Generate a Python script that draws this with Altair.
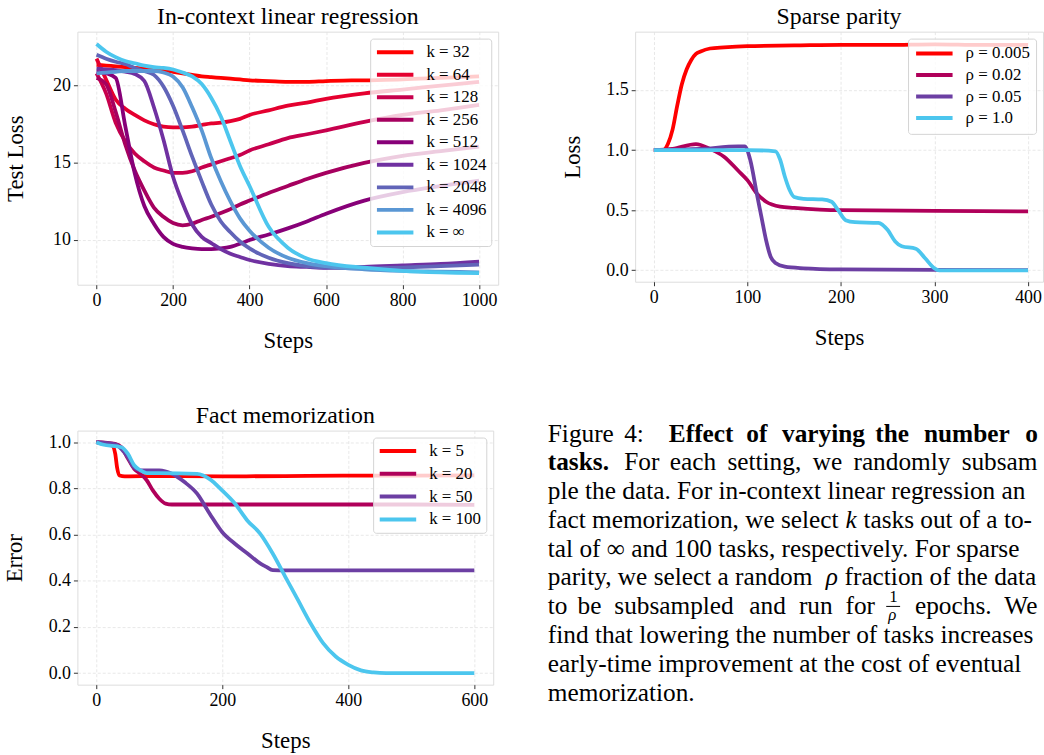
import altair as alt
import pandas as pd

FONT = "Liberation Serif"

# ---------------- In-context linear regression ----------------
icl_steps = [0, 25, 50, 75, 100, 125, 150, 175, 200, 225, 250, 275, 300, 325, 350, 375,
             400, 450, 500, 550, 600, 700, 800, 900, 1000]
icl_k32 = [21.35, 21.3, 21.25, 21.2, 21.15, 21.1, 21.05, 21.0, 20.9, 20.8, 20.7, 20.6, 20.55,
           20.5, 20.45, 20.4, 20.35, 20.3, 20.25, 20.25, 20.3, 20.35, 20.4, 20.5, 20.6]
icl_k64 = [21.75, 20.4, 19.1, 18.5, 18.1, 17.75, 17.5, 17.35, 17.3, 17.3, 17.35, 17.45, 17.55,
           17.6, 17.7, 17.85, 18.1, 18.4, 18.7, 18.9, 19.15, 19.5, 19.75, 20.0, 20.25]
icl_k128 = [20.8, 19.5, 17.6, 16.4, 15.6, 15.1, 14.7, 14.5, 14.35, 14.35, 14.45, 14.7, 14.9,
            15.1, 15.3, 15.5, 15.8, 16.2, 16.6, 16.85, 17.1, 17.65, 18.1, 18.4, 18.75]
icl_k256 = [20.5, 20.1, 18.3, 16.2, 14.5, 13.2, 12.1, 11.5, 11.1, 10.95, 11.05, 11.3, 11.5,
            11.75, 12.0, 12.3, 12.55, 13.05, 13.5, 13.95, 14.35, 15.0, 15.45, 15.75, 16.05]
icl_k512 = [20.9, 20.8, 20.5, 17.4, 14.3, 12.2, 11.05, 10.2, 9.75, 9.55, 9.45, 9.4, 9.4,
            9.45, 9.55, 9.75, 10.0, 10.35, 10.75, 11.2, 11.7, 12.55, 13.1, 13.5, 13.85]
icl_k1024 = [21.1, 21.05, 21.0, 20.9, 20.75, 20.3, 18.6, 16.5, 14.1, 12.4, 11.0, 10.2, 9.8,
             9.4, 9.1, 8.9, 8.7, 8.45, 8.3, 8.25, 8.2, 8.25, 8.35, 8.45, 8.6]
icl_k2048 = [22.0, 21.75, 21.55, 21.4, 21.15, 20.95, 20.7, 19.95, 18.7, 17.1, 15.4, 13.8, 12.3,
             11.2, 10.5, 9.9, 9.45, 8.85, 8.5, 8.3, 8.2, 8.15, 8.2, 8.3, 8.4]
icl_k4096 = [20.8, 20.85, 20.9, 20.95, 20.95, 20.95, 20.95, 20.85, 20.6, 19.9, 18.6, 17.1, 15.3,
             13.8, 12.5, 11.4, 10.6, 9.5, 8.85, 8.5, 8.3, 8.1, 8.0, 7.95, 7.9]
icl_kinf = [22.7, 22.2, 21.85, 21.6, 21.45, 21.3, 21.2, 21.15, 21.05, 20.85, 20.6, 20.1, 19.2,
            18.0, 16.4, 14.8, 13.5, 10.85, 9.5, 8.8, 8.5, 8.2, 8.0, 7.9, 7.85]
icl_labels = ["k = 32", "k = 64", "k = 128", "k = 256", "k = 512", "k = 1024",
              "k = 2048", "k = 4096", "k = ∞"]
icl_colors = ["#ff0000", "#e5002f", "#c7004d", "#a6005f", "#870078", "#7031a1",
              "#6164b8", "#5a97d4", "#4cc6ee"]

# ---------------- Sparse parity ----------------
sp_steps_0005 = [0, 10, 15, 20, 25, 30, 35, 40, 45, 50, 60, 75, 100, 150, 200, 250, 300, 350, 400]
sp_vals_0005 = [1.0, 1.0, 1.05, 1.17, 1.37, 1.55, 1.67, 1.75, 1.8, 1.82, 1.845, 1.855, 1.865,
                1.87, 1.875, 1.875, 1.88, 1.875, 1.875]
sp_steps_002 = [0, 20, 45, 60, 75, 90, 100, 110, 120, 135, 150, 200, 300, 400]
sp_vals_002 = [1.0, 1.01, 1.05, 1.01, 0.945, 0.83, 0.75, 0.64, 0.57, 0.53, 0.52, 0.5, 0.495, 0.49]
sp_steps_005 = [0, 50, 90, 97, 103, 110, 115, 120, 125, 130, 140, 160, 200, 300, 400]
sp_vals_005 = [1.0, 1.01, 1.03, 1.03, 0.92, 0.64, 0.445, 0.25, 0.11, 0.06, 0.03, 0.017, 0.008,
               0.003, 0.002]
sp_steps_1 = [0, 100, 130, 135, 140, 145, 150, 160, 180, 190, 197, 205, 215, 240, 250, 258, 265,
              280, 290, 300, 305, 400]
sp_vals_1 = [1.0, 1.0, 0.99, 0.92, 0.78, 0.67, 0.61, 0.595, 0.59, 0.57, 0.5, 0.417, 0.4, 0.395,
             0.335, 0.24, 0.2, 0.18, 0.1, 0.016, 0.0, 0.0]
sp_labels = ["ρ = 0.005", "ρ = 0.02", "ρ = 0.05", "ρ = 1.0"]
sp_colors = ["#ff0000", "#b0005a", "#6c3fa3", "#4cc6ee"]

# ---------------- Fact memorization ----------------
fm_steps_5 = [0, 10, 25, 30, 33, 37, 45, 100, 200, 300, 400, 500, 600]
fm_vals_5 = [1.0, 0.993, 0.986, 0.95, 0.89, 0.856, 0.852, 0.853, 0.852, 0.853, 0.855, 0.855, 0.856]
fm_steps_20 = [0, 30, 40, 50, 60, 70, 80, 90, 100, 110, 120, 200, 300, 400, 500, 600]
fm_vals_20 = [1.0, 0.993, 0.978, 0.93, 0.885, 0.863, 0.835, 0.79, 0.755, 0.734, 0.73, 0.73, 0.73,
              0.73, 0.73, 0.728]
fm_steps_50 = [0, 30, 40, 50, 60, 70, 100, 120, 140, 160, 180, 200, 220, 240, 260, 270, 280, 300,
               400, 500, 600]
fm_vals_50 = [1.0, 0.99, 0.97, 0.935, 0.89, 0.878, 0.878, 0.863, 0.827, 0.777, 0.69, 0.61, 0.56,
              0.518, 0.475, 0.46, 0.446, 0.445, 0.445, 0.445, 0.445]
fm_steps_100 = [0, 10, 40, 50, 60, 70, 80, 100, 160, 180, 200, 220, 240, 260, 280, 300, 320, 340,
                360, 380, 400, 420, 440, 460, 600]
fm_vals_100 = [1.0, 0.99, 0.978, 0.95, 0.9, 0.878, 0.866, 0.866, 0.863, 0.84, 0.79, 0.734, 0.66,
               0.604, 0.518, 0.417, 0.317, 0.216, 0.13, 0.072, 0.036, 0.012, 0.003, 0.0, 0.0]
fm_labels = ["k = 5", "k = 20", "k = 50", "k = 100"]
fm_colors = ["#ff0000", "#b0005a", "#6c3fa3", "#4cc6ee"]

# ---------------- Caption ----------------
# (line, x offset, text, style)  n normal, b bold, i italic, s small upright, si small italic
caption_segments = [
    (0, 0, "Figure", "n"), (0, 77, "4:", "n"), (0, 122, "Effect", "b"), (0, 200, "of", "b"),
    (0, 236, "varying", "b"), (0, 330, "the", "b"), (0, 379, "number", "b"), (0, 481, "of", "b"),
    (1, 0, "tasks.", "b"), (1, 77, "For", "n"), (1, 123, "each", "n"), (1, 181, "setting,", "n"),
    (1, 267, "we", "n"), (1, 308, "randomly", "n"), (1, 417, "subsam-", "n"),
    (2, 0, "ple the data. For in-context linear regression and", "n"),
    (3, 0, "fact memorization, we select", "n"), (3, 300, "k", "i"),
    (3, 318, "tasks out of a to-", "n"),
    (4, 0, "tal of ∞ and 100 tasks, respectively. For sparse", "n"),
    (5, 0, "parity, we select a random", "n"), (5, 280, "ρ", "i"),
    (5, 299, "fraction of the data", "n"),
    (6, 0, "to", "n"), (6, 30, "be", "n"), (6, 67, "subsampled", "n"), (6, 203, "and", "n"),
    (6, 253, "run", "n"), (6, 300, "for", "n"), (6, 370, "epochs.", "n"), (6, 460, "We", "n"),
    (5.59, 344, "1", "s"), (6.21, 343, "ρ", "si"),
    (7, 0, "find that lowering the number of tasks increases", "n"),
    (8, 0, "early-time improvement at the cost of eventual", "n"),
    (9, 0, "memorization.", "n"),
]
fraction_bar = [(5.73, 341, 355)]
CAPTION_WIDTH = 494


def long_df(steps_lists, values_lists, labels):
    rows = []
    for lab, st, vals in zip(labels, steps_lists, values_lists):
        for s, v in zip(st, vals):
            rows.append({"step": s, "value": v, "series": lab})
    return pd.DataFrame(rows)


icl_df = long_df([icl_steps] * 9,
                 [icl_k32, icl_k64, icl_k128, icl_k256, icl_k512, icl_k1024, icl_k2048,
                  icl_k4096, icl_kinf], icl_labels)
sp_df = long_df([sp_steps_0005, sp_steps_002, sp_steps_005, sp_steps_1],
                [sp_vals_0005, sp_vals_002, sp_vals_005, sp_vals_1], sp_labels)
fm_df = long_df([fm_steps_5, fm_steps_20, fm_steps_50, fm_steps_100],
                [fm_vals_5, fm_vals_20, fm_vals_50, fm_vals_100], fm_labels)

AX = dict(labelFont=FONT, labelFontSize=18, labelColor="black", titleFont=FONT,
          titleFontSize=23, titleFontWeight="normal", titleColor="black", tickColor="#333333",
          tickSize=4, tickWidth=1, domain=False, grid=True, gridColor="#e2e2e2",
          gridDash=[3, 2], gridWidth=0.8, labelPadding=3)


def make_legend(row_pad, pad):
    return alt.Legend(title=None, orient="top-right", offset=7, symbolType="stroke",
                      symbolSize=1350, symbolStrokeWidth=4, clipHeight=18, rowPadding=row_pad,
                      labelFont=FONT, labelFontSize=17, labelColor="black", labelOffset=11,
                      padding=pad, fillColor="rgba(255,255,255,0.8)", strokeColor="#d4d4d4",
                      cornerRadius=3)


def panel(df, title, ytitle, xdom, ydom, xvals, yvals, yfmt, labels, colors, w, h, yext,
          ytp, legend):
    return alt.Chart(df, title=alt.TitleParams(title, font=FONT, fontSize=24,
                                               fontWeight="normal", color="black", offset=3,
                                               anchor="middle")).mark_line(
        strokeWidth=3.8, interpolate="monotone", clip=True
    ).encode(
        x=alt.X("step:Q", scale=alt.Scale(domain=xdom, nice=False, zero=False),
                axis=alt.Axis(values=xvals, title="Steps", format="d", titlePadding=20, **AX)),
        y=alt.Y("value:Q", scale=alt.Scale(domain=ydom, nice=False, zero=False),
                axis=alt.Axis(values=yvals, title=ytitle, format=yfmt, minExtent=yext,
                              maxExtent=yext, titlePadding=ytp, **AX)),
        color=alt.Color("series:N", sort=labels, scale=alt.Scale(domain=labels, range=colors),
                        legend=legend),
    ).properties(width=w, height=h)


c1 = panel(icl_df, "In-context linear regression", "Test Loss", [-50, 1050], [7.1, 23.5],
           [0, 200, 400, 600, 800, 1000], [10, 15, 20], "d", icl_labels, icl_colors,
           424, 255, 25, 25, make_legend(4.7, 4.7))
c2 = panel(sp_df, "Sparse parity", "Loss", [-20, 416], [-0.095, 1.985],
           [0, 100, 200, 300, 400], [0.0, 0.5, 1.0, 1.5], ".1f", sp_labels, sp_colors,
           411, 252, 30, 21, make_legend(3.7, 6))
c3 = panel(fm_df, "Fact memorization", "Error", [-30, 630], [-0.05, 1.05],
           [0, 200, 400, 600], [0.0, 0.2, 0.4, 0.6, 0.8, 1.0], ".1f", fm_labels, fm_colors,
           419, 256, 30, 21, make_legend(5, 4.5))

cap_df = pd.DataFrame(caption_segments, columns=["line", "x", "text", "style"])
bar_df = pd.DataFrame(fraction_bar, columns=["line", "x", "x2"])
xs = alt.Scale(domain=[0, CAPTION_WIDTH], range=[0, CAPTION_WIDTH])
ys = alt.Scale(domain=[0, 9], range=[11, 272])
STYLE = {
    "n": dict(fontSize=25.5),
    "b": dict(fontSize=25.5, fontWeight="bold"),
    "i": dict(fontSize=25.5, fontStyle="italic"),
    "s": dict(fontSize=17),
    "si": dict(fontSize=17, fontStyle="italic"),
}
cap_layers = []
for (style, xoff), grp in cap_df.groupby(["style", "x"], sort=False):
    cap_layers.append(
        alt.Chart(grp).mark_text(align="left", baseline="alphabetic", font=FONT,
                                 color="black", limit=CAPTION_WIDTH - int(xoff),
                                 ellipsis="\u200b", **STYLE[style]).encode(
            x=alt.X("x:Q", scale=xs, axis=None),
            y=alt.Y("line:Q", scale=ys, axis=None),
            text="text:N",
        )
    )
cap_bar = alt.Chart(bar_df).mark_rule(color="black", strokeWidth=1).encode(
    x=alt.X("x:Q", scale=xs, axis=None), x2="x2:Q", y=alt.Y("line:Q", scale=ys, axis=None))
caption = alt.layer(*cap_layers, cap_bar).properties(
    width=CAPTION_WIDTH, height=290,
    view=alt.ViewBackground(stroke=None),
)

row1 = alt.hconcat(c1, c2, spacing=62).resolve_scale(color="independent")
row2 = alt.hconcat(c3, caption, spacing=54).resolve_scale(color="independent")
chart = alt.vconcat(row1, row2, spacing=50).resolve_scale(color="independent").properties(
    padding={"left": 3, "top": 1, "right": 0, "bottom": 0}
).configure_view(stroke="#262626", strokeWidth=1.1).configure(font=FONT)

chart.save("out.html", embed_options={"renderer": "svg", "actions": False})
